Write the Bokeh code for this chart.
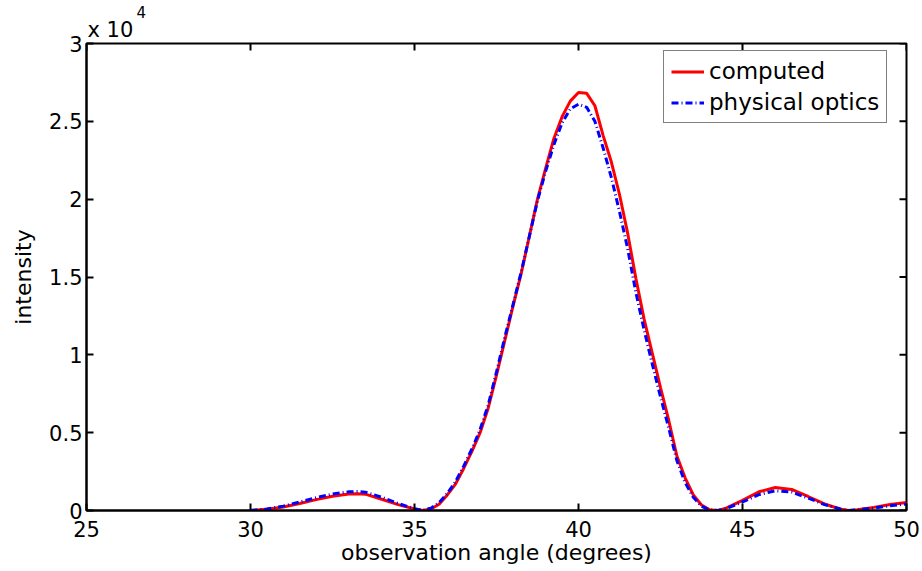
import math
from bokeh.plotting import figure
from bokeh.models import (Range1d, Legend, LegendItem, FixedTicker,
                          ColumnDataSource, Title)
from bokeh.embed import file_html
from bokeh.resources import INLINE

# observation angle (degrees)
angle = [30, 30.5, 31, 31.5, 32, 32.5, 33, 33.25, 33.5, 34, 34.5,
         35, 35.25, 35.5, 35.75, 36, 36.25, 36.5, 36.75, 37, 37.25,
         37.5, 37.75, 38, 38.25, 38.5, 38.75, 39, 39.25, 39.5, 39.75,
         40, 40.25, 40.5, 40.75, 41, 41.25, 41.5, 41.75, 42, 42.25,
         42.5, 42.75, 43, 43.25, 43.5, 43.75, 44, 44.25, 44.5,
         45, 45.5, 46, 46.5, 47, 47.5, 48, 48.25, 48.5, 49, 49.5, 50]

# computed intensity
computed = [0, 80, 220, 450, 700, 920, 1060, 1080, 1050, 720, 380,
            100, 0, 100, 400, 1000, 1700, 2700, 3800, 5000, 6600,
            8700, 10900, 13100, 15200, 17600, 20000, 22000, 23900, 25300, 26300,
            26850, 26800, 26000, 24100, 22400, 20300, 17800, 14900, 12300, 10100,
            7900, 5800, 3500, 2100, 1000, 350, 50, 0, 150,
            650, 1200, 1480, 1350, 900, 420, 80, 0, 50, 200, 380, 520]

# physical optics intensity
physical_optics = [0, 100, 280, 550, 820, 1060, 1200, 1220, 1180, 850, 450,
                   120, 10, 150, 500, 1100, 1850, 2850, 3950, 5200, 6800,
                   8900, 11100, 13200, 15300, 17600, 19900, 21800, 23500, 24900, 25800,
                   26100, 25900, 25000, 23300, 21400, 19200, 16800, 14000, 11600, 9400,
                   7300, 5300, 3200, 1800, 850, 280, 30, 0, 120,
                   550, 1020, 1270, 1180, 800, 380, 80, 0, 40, 160, 300, 420]

x_ticks = [25, 30, 35, 40, 45, 50]
y_ticks = [0, 5000, 10000, 15000, 20000, 25000, 30000]
y_tick_labels = ["0", "0.5", "1", "1.5", "2", "2.5", "3"]

X_MIN, X_MAX = 25, 50
Y_MIN, Y_MAX = 0, 30000

FONT = "DejaVu Sans"

src = ColumnDataSource(dict(angle=angle, computed=computed, po=physical_optics))

p = figure(width=920, height=569, output_backend="svg", toolbar_location=None,
           title=None,
           x_range=Range1d(X_MIN, X_MAX), y_range=Range1d(Y_MIN, Y_MAX),
           min_border_left=86, min_border_right=14, min_border_top=43,
           min_border_bottom=59, x_axis_label="observation angle (degrees)",
           y_axis_label="intensity")
p.background_fill_color = "white"
p.border_fill_color = "white"
p.outline_line_color = "black"
p.outline_line_width = 2
p.xgrid.visible = False
p.ygrid.visible = False

def style_axis(ax):
    ax.axis_line_width = 2
    ax.axis_line_color = "black"
    ax.major_tick_in = 7
    ax.major_tick_out = 0
    ax.major_tick_line_width = 2
    ax.major_tick_line_color = "black"
    ax.minor_tick_line_color = None
    ax.major_label_text_font = FONT
    ax.major_label_text_font_size = "21px"
    ax.major_label_text_color = "black"
    ax.axis_label_text_font = FONT
    ax.axis_label_text_font_size = "22px"
    ax.axis_label_text_font_style = "normal"
    ax.axis_label_text_color = "black"

xa = p.xaxis[0]
ya = p.yaxis[0]
xa.ticker = FixedTicker(ticks=x_ticks)
ya.ticker = FixedTicker(ticks=y_ticks)
ya.major_label_overrides = {t: s for t, s in zip(y_ticks, y_tick_labels)}
style_axis(xa)
style_axis(ya)
xa.major_label_standoff = 10
xa.axis_label_standoff = 0
ya.major_label_standoff = 4
ya.axis_label_standoff = 10

# mirrored inward ticks on the top and right edges of the box (half clipped by the frame)
p.scatter(x=x_ticks, y=[Y_MAX] * len(x_ticks), marker="dash", size=14,
          angle=math.pi / 2, line_color="black", line_width=2)
p.scatter(x=[X_MAX] * len(y_ticks), y=y_ticks, marker="dash", size=14,
          line_color="black", line_width=2)

r1 = p.line("angle", "computed", source=src, line_color="#ff0000", line_width=3)
r2 = p.line("angle", "po", source=src, line_color="#0000ff", line_width=3,
            line_dash="7 3 1 3")

legend = Legend(items=[LegendItem(label="computed", renderers=[r1]),
                       LegendItem(label="physical optics", renderers=[r2])],
                location=(577, 387))
legend.border_line_color = "black"
legend.border_line_width = 1
legend.background_fill_color = "white"
legend.background_fill_alpha = 1
legend.label_text_font = FONT
legend.label_text_font_size = "23px"
legend.label_text_color = "black"
legend.glyph_width = 33
legend.glyph_height = 25
legend.label_height = 25
legend.label_standoff = 5
legend.spacing = 5
legend.padding = 7
legend.margin = 0
p.add_layout(legend)

# "x 10^4" exponent marker above the box
mult = Title(text="x 10", align="left", offset=1, standoff=4,
             text_font=FONT, text_font_size="21px", text_font_style="normal",
             text_color="black")
sup = Title(text="4", align="left", offset=50, standoff=-8,
            text_font=FONT, text_font_size="15px", text_font_style="normal",
            text_color="black")
p.add_layout(mult, "above")
p.add_layout(sup, "above")

open("out.html", "w").write(file_html(p, INLINE))
